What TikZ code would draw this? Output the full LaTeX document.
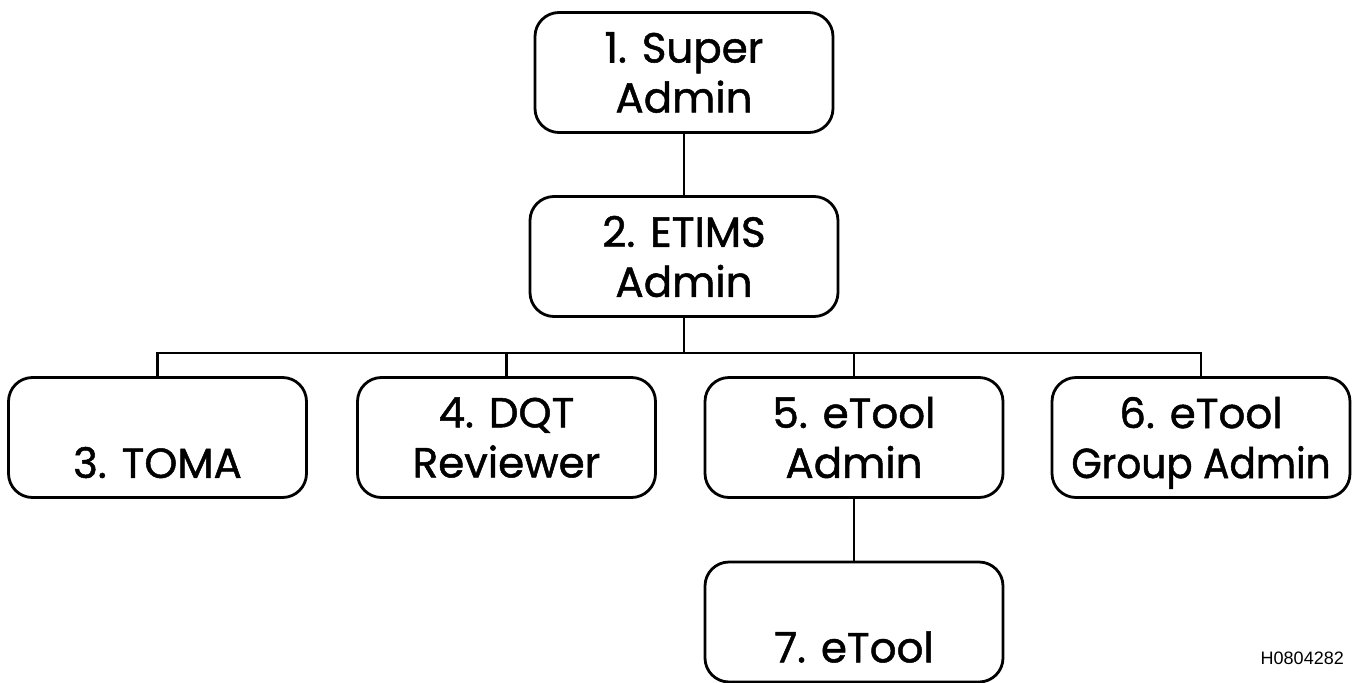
\documentclass[tikz,border=0pt]{standalone}
\usepackage{fontspec}
\usepackage{graphicx}
\setmainfont{Poppins}[FakeBold=1.2]
\setsansfont{Liberation Sans}
\begin{document}
\begin{tikzpicture}[x=1pt,y=-1pt,
  role/.style={draw, line width=2.8pt, rounded corners=24pt,
    minimum width=298pt, minimum height=120pt, align=center,
    inner sep=0pt, font=\fontsize{42}{50}\selectfont},
  link/.style={line width=2.4pt}]
\useasboundingbox (0,0) rectangle (1353,683);
% hierarchy of roles
\node[role] (super) at (684,72.5) {1. Super\\Admin};
\node[role, minimum width=308pt] (etims) at (684,256.5) {2. ETIMS\\Admin};
\node[role] (toma) at (157.5,437.5) {\vphantom{Tl}\\3. TOMA};
\node[role] (dqt) at (506.5,437.5) {4. DQT\\Reviewer};
\node[role] (etadmin) at (854,437.5) {5. eTool\\Admin};
\node[role] (group) at (1201,437.5) {6. eTool\\\raisebox{0pt}[\height][0pt]{\scalebox{0.93}[1]{Group Admin}}};
\node[role] (etool) at (854,622) {\vphantom{Tl}\\7. eTool};
% level of the branching bar
\coordinate (bar) at (0,353);
% connectors
\draw[link] (super) -- (etims);
\draw[link] (etims.south) -- (etims.south |- bar);
\draw[link] (toma.north) -- (toma.north |- bar) -- (group.north |- bar) -- (group.north);
\draw[link] (dqt.north) -- (dqt.north |- bar);
\draw[link] (etadmin.north) -- (etadmin.north |- bar);
\draw[link] (etadmin) -- (etool);
% figure code
\node[font=\sffamily\fontsize{18}{20}\selectfont, anchor=east, inner sep=0pt] (code) at (1344,658) {H0804282};
\end{tikzpicture}
\end{document}
